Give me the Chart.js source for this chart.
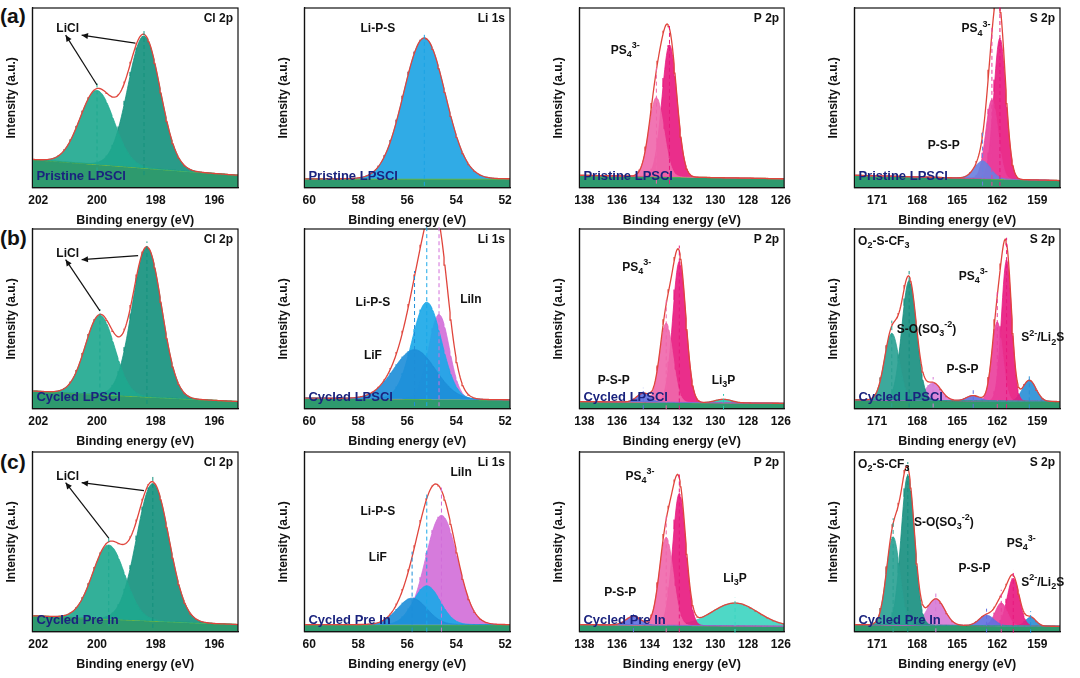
<!DOCTYPE html>
<html><head><meta charset="utf-8">
<script src="https://cdn.jsdelivr.net/npm/chart.js@4"></script>
<style>
body{margin:0;width:1080px;height:678px;background:#fff;position:relative;overflow:hidden;font-family:"Liberation Sans",Arial,sans-serif}
.p{position:absolute}
.tag{position:absolute;font:bold 21px "Liberation Sans",Arial;color:#111}
</style></head><body>
<div class="tag" style="left:0;top:4px">(a)</div>
<div class="tag" style="left:0;top:226px">(b)</div>
<div class="tag" style="left:0;top:450px">(c)</div>
<script>
// shared axis settings per column
const colRange = [[195.2, 202.2], [51.8, 60.2], [125.8, 138.3], [157.3, 172.7]];
const colTicks = [[202, 200, 198, 196], [60, 58, 56, 54, 52], [138, 136, 134, 132, 130, 128, 126], [171, 168, 165, 162, 159]];
const coreLevel = ['Cl 2p', 'Li 1s', 'P 2p', 'S 2p'];
const samples = ['Pristine LPSCl', 'Cycled LPSCl', 'Cycled Pre In'];

// fitted peaks: [center eV, height, sigma, colour]
const peaksA = [
  [[200.0, 0.42, 0.58, '#1fa88f'], [198.4, 0.75, 0.55, '#14917d']],
  [[55.3, 0.80, 0.85, '#1ca3e4']],
  [[133.6, 0.45, 0.45, '#f067ab'], [132.8, 0.75, 0.45, '#e8197f']],
  [[163.1, 0.10, 0.60, '#6a7fe0'], [162.4, 0.45, 0.45, '#ea3f9c'], [161.8, 0.80, 0.45, '#e8197f']]
];
const peaksB = [
  [[199.9, 0.45, 0.50, '#1fa88f'], [198.3, 0.85, 0.50, '#14917d']],
  [[55.7, 0.28, 0.85, '#1e8ed8'], [55.2, 0.55, 0.60, '#1aa8e8'], [54.7, 0.48, 0.42, '#d26ed9']],
  [[134.4, 0.05, 0.40, '#6070e0'], [133.0, 0.45, 0.40, '#f067ab'], [132.2, 0.80, 0.40, '#e8197f'], [129.5, 0.02, 0.5, '#2ac6b0']],
  [[169.9, 0.38, 0.55, '#2aa092'], [168.6, 0.68, 0.55, '#178f80'], [166.8, 0.10, 0.60, '#d67ad6'], [163.8, 0.03, 0.5, '#6070e0'], [162.0, 0.45, 0.40, '#ea3f9c'], [161.3, 0.80, 0.38, '#e8197f'], [159.6, 0.12, 0.50, '#2a8fd6']]
];
const peaksC = [
  [[199.6, 0.42, 0.55, '#1fa88f'], [198.1, 0.78, 0.55, '#14917d']],
  [[55.8, 0.15, 0.60, '#1e8ed8'], [55.2, 0.22, 0.55, '#1aa8e8'], [54.6, 0.62, 0.65, '#d26ed9']],
  [[135.0, 0.05, 0.45, '#6070e0'], [133.0, 0.50, 0.42, '#f067ab'], [132.2, 0.75, 0.40, '#e8197f'], [128.8, 0.13, 1.40, '#3cd4c0']],
  [[169.8, 0.50, 0.50, '#2aa092'], [168.7, 0.85, 0.50, '#178f80'], [166.6, 0.15, 0.65, '#d67ad6'], [162.8, 0.06, 0.55, '#6070e0'], [161.7, 0.13, 0.45, '#ea3f9c'], [160.8, 0.27, 0.45, '#e8197f'], [159.5, 0.05, 0.4, '#2a8fd6']]
];
// background [high-BE side, low-BE side]
const bgA = [[0.16, 0.07], [0.05, 0.05], [0.07, 0.05], [0.07, 0.04]];
const bgB = [[0.10, 0.04], [0.06, 0.05], [0.04, 0.03], [0.05, 0.04]];
const bgC = [[0.09, 0.04], [0.04, 0.04], [0.04, 0.03], [0.04, 0.03]];

// annotation text [label, x eV, y]
const labelsA = [[['LiCl', 201.0, 0.90]], [['Li-P-S', 57.2, 0.90]], [['PS4|3-', 135.5, 0.78]], [['PS4|3-', 163.6, 0.90], ['P-S-P', 166.0, 0.24]]];
const labelsB = [[['LiCl', 201.0, 0.88]], [['Li-P-S', 57.4, 0.60], ['LiF', 57.4, 0.30], ['LiIn', 53.4, 0.62]], [['PS4|3-', 134.8, 0.80], ['P-S-P', 136.2, 0.16], ['Li3P', 129.5, 0.16]], [['O2-S-CF3', 170.5, 0.95], ['S-O(SO3-2)', 167.3, 0.45], ['PS4|3-', 163.8, 0.75], ['P-S-P', 164.6, 0.22], ['S2-/Li2S', 158.6, 0.40]]];
const labelsC = [[['LiCl', 201.0, 0.88]], [['LiIn', 53.8, 0.90], ['Li-P-S', 57.2, 0.68], ['LiF', 57.2, 0.42]], [['PS4|3-', 134.6, 0.88], ['P-S-P', 135.8, 0.22], ['Li3P', 128.8, 0.30]], [['O2-S-CF3', 170.5, 0.95], ['S-O(SO3-2)', 166.0, 0.62], ['P-S-P', 163.7, 0.36], ['PS4|3-', 160.2, 0.50], ['S2-/Li2S', 158.6, 0.28]]];

const plotLeft = [38, 310, 585, 860];
const plotTop = [10, 231, 454];
const PW = 198, PH = 176;

function gauss(x, c, h, s) { return h * Math.exp(-((x - c) ** 2) / (2 * s * s)); }

function drawRich(ctx, t, x, y, align) {
  const parts = [];
  if (t.includes('|')) { const [a, b] = t.split('|'); parts.push([a.slice(0, -1), 0], [a.slice(-1), 1], [b, -1]); }
  else if (t === 'O2-S-CF3') parts.push(['O', 0], ['2', 1], ['-S-CF', 0], ['3', 1]);
  else if (t === 'Li3P') parts.push(['Li', 0], ['3', 1], ['P', 0]);
  else if (t === 'S2-/Li2S') parts.push(['S', 0], ['2-', -1], ['/Li', 0], ['2', 1], ['S', 0]);
  else if (t === 'S-O(SO3-2)') parts.push(['S-O(SO', 0], ['3', 1], ['-2', -1], [')', 0]);
  else parts.push([t, 0]);
  const big = 'bold 12px "Liberation Sans", Arial', sm = 'bold 9px "Liberation Sans", Arial';
  let w = 0;
  parts.forEach(p => { ctx.font = p[1] ? sm : big; w += ctx.measureText(p[0]).width; });
  let cx = align === 'right' ? x - w : align === 'center' ? x - w / 2 : x;
  ctx.textAlign = 'left'; ctx.textBaseline = 'middle'; ctx.fillStyle = '#111';
  parts.forEach(p => {
    ctx.font = p[1] ? sm : big;
    ctx.fillText(p[0], cx, y + (p[1] === 1 ? 4 : p[1] === -1 ? -5 : 0));
    cx += ctx.measureText(p[0]).width;
  });
}

function makePanel(row, col, peaks, bg, labels) {
  const div = document.createElement('div');
  div.className = 'p';
  const W = PW + 48, H = PH + 52;
  div.style.cssText = `left:${plotLeft[col] - 38}px;top:${plotTop[row] - 6}px;width:${W}px;height:${H}px`;
  const cv = document.createElement('canvas');
  div.appendChild(cv); document.body.appendChild(div);
  const [lo, hi] = colRange[col];
  const xs = [];
  for (let i = 0; i <= 240; i++) xs.push(lo + (hi - lo) * i / 240);
  const base = x => bg[1] + (bg[0] - bg[1]) * (x - lo) / (hi - lo);
  const sets = [{ data: xs.map(x => ({ x, y: base(x) })), borderColor: '#7bbf3a', borderWidth: 1.2, backgroundColor: '#2e9a6e', fill: { value: 0 }, order: 10 }];
  peaks.forEach(p => sets.push({ data: xs.map(x => ({ x, y: base(x) + gauss(x, p[0], p[1], p[2]) })), borderColor: p[3], borderWidth: 0.8, backgroundColor: p[3] + 'e8', fill: 0, order: 5 }));
  const env = xs.map(x => ({ x, y: base(x) + peaks.reduce((s, p) => s + gauss(x, p[0], p[1], p[2]), 0) }));
  sets.push({ data: env, borderColor: '#e0453c', borderWidth: 1.3, fill: false, order: 1 });
  const envAt = x => base(x) + peaks.reduce((s, p) => s + gauss(x, p[0], p[1], p[2]), 0);
  new Chart(cv, {
    type: 'line',
    data: { datasets: sets },
    options: {
      responsive: true, maintainAspectRatio: false, animation: false,
      layout: { padding: { right: 8, top: 4 } },
      elements: { point: { radius: 0 }, line: { tension: 0 } },
      plugins: { legend: { display: false }, tooltip: { enabled: false } },
      scales: {
        x: {
          type: 'linear', reverse: true, min: lo, max: hi,
          grid: { display: false, drawTicks: true, tickLength: 4 },
          border: { color: '#111', width: 1.2 },
          afterBuildTicks: a => { a.ticks = colTicks[col].map(v => ({ value: v })); },
          ticks: { color: '#111', font: { size: 12, weight: 'bold', family: '"Liberation Sans", Arial' }, maxRotation: 0, padding: 2 },
          title: { display: true, text: 'Binding energy (eV)', color: '#111', font: { size: 12.5, weight: 'bold', family: '"Liberation Sans", Arial' }, padding: { top: 3 } }
        },
        y: {
          min: 0, max: 1.02,
          grid: { display: false }, ticks: { display: false },
          border: { color: '#111', width: 1.2 },
          title: { display: true, text: 'Intensity (a.u.)', color: '#111', font: { size: 12, weight: 'bold', family: '"Liberation Sans", Arial' }, padding: { bottom: 6 } }
        }
      }
    },
    plugins: [{
      id: 'deco',
      afterDatasetsDraw(ch) {
        const { ctx, chartArea: a, scales: { x, y } } = ch;
        ctx.save();
        ctx.strokeStyle = '#111'; ctx.lineWidth = 1.2;
        ctx.strokeRect(a.left, a.top, a.right - a.left, a.bottom - a.top);
        ctx.setLineDash([4, 3]); ctx.lineWidth = 1;
        peaks.forEach(p => {
          ctx.strokeStyle = p[3];
          ctx.beginPath(); ctx.moveTo(x.getPixelForValue(p[0]), y.getPixelForValue(base(p[0]) - 0.04));
          ctx.lineTo(x.getPixelForValue(p[0]), y.getPixelForValue(envAt(p[0]) + 0.03)); ctx.stroke();
        });
        ctx.setLineDash([]);
        drawRich(ctx, coreLevel[col], a.right - 5, a.top + 11, 'right');
        ctx.font = 'bold 13px "Liberation Sans", Arial'; ctx.fillStyle = '#1a237e';
        ctx.textAlign = 'left'; ctx.textBaseline = 'middle';
        ctx.fillText(samples[row], a.left + 4, a.bottom - 11);
        labels.forEach(l => drawRich(ctx, l[0], x.getPixelForValue(l[1]), y.getPixelForValue(l[2]), 'center'));
        if (col === 0) {
          const lx = x.getPixelForValue(labels[0][1]), ly = y.getPixelForValue(labels[0][2]);
          ctx.strokeStyle = '#111'; ctx.fillStyle = '#111'; ctx.lineWidth = 1.2;
          [[peaks[0][0], envAt(peaks[0][0]) + 0.02, -2], [peaks[1][0] + 0.3, envAt(peaks[1][0]) - 0.05, 14]].forEach(t => {
            const tx = x.getPixelForValue(t[0]), ty = y.getPixelForValue(t[1]);
            const sx = lx + t[2], sy = ly + 6;
            ctx.beginPath(); ctx.moveTo(sx, sy); ctx.lineTo(tx, ty); ctx.stroke();
            const ang = Math.atan2(sy - ty, sx - tx);
            ctx.beginPath(); ctx.moveTo(sx, sy);
            ctx.lineTo(sx + 7 * Math.cos(ang + 2.7), sy + 7 * Math.sin(ang + 2.7));
            ctx.lineTo(sx + 7 * Math.cos(ang - 2.7), sy + 7 * Math.sin(ang - 2.7)); ctx.fill();
          });
        }
        ctx.restore();
      }
    }]
  });
}

const allPeaks = [peaksA, peaksB, peaksC], allBg = [bgA, bgB, bgC], allLabels = [labelsA, labelsB, labelsC];
for (let r = 0; r < 3; r++) for (let c = 0; c < 4; c++) makePanel(r, c, allPeaks[r][c], allBg[r][c], allLabels[r][c]);
</script>
</body></html>
